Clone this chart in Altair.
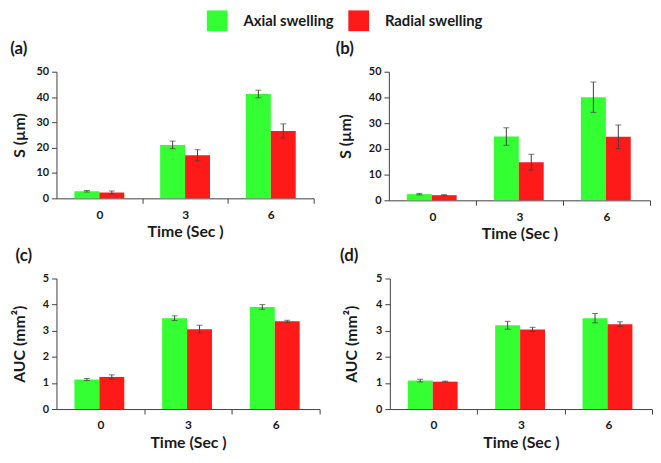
import altair as alt
import pandas as pd

times = ["0", "3", "6"]
series = ["Axial swelling", "Radial swelling"]
colors = ["#33FF33", "#FF1A1A"]

# panel (a): S (um)
a_axial = [2.8, 21.1, 41.2]
a_axial_err = [0.3, 1.5, 1.5]
a_radial = [2.3, 17.0, 26.6]
a_radial_err = [0.6, 2.2, 2.8]
# panel (b): S (um)
b_axial = [2.4, 24.8, 40.1]
b_axial_err = [0.3, 3.4, 5.9]
b_radial = [2.0, 14.8, 24.7]
b_radial_err = [0.2, 3.1, 4.6]
# panel (c): AUC (mm2)
c_axial = [1.13, 3.48, 3.91]
c_axial_err = [0.04, 0.09, 0.09]
c_radial = [1.23, 3.06, 3.36]
c_radial_err = [0.08, 0.15, 0.04]
# panel (d): AUC (mm2)
d_axial = [1.09, 3.21, 3.48]
d_axial_err = [0.05, 0.15, 0.18]
d_radial = [1.05, 3.05, 3.25]
d_radial_err = [0.02, 0.08, 0.09]

FONT = "Lato"
DARK = "#1a1a1a"
AXC = "#404040"


def make_df(ax, axe, ra, rae):
    rows = []
    for i, t in enumerate(times):
        rows.append({"time": t, "series": series[0], "value": ax[i],
                     "lo": ax[i] - axe[i], "hi": ax[i] + axe[i]})
        rows.append({"time": t, "series": series[1], "value": ra[i],
                     "lo": ra[i] - rae[i], "hi": ra[i] + rae[i]})
    return pd.DataFrame(rows)


def panel(df, label, ytitle, ymax, step, w, h, title_pad, title_dx):
    half = w / 6.0
    xenc = alt.X("time:N", sort=times,
                 scale=alt.Scale(paddingInner=0, paddingOuter=0),
                 axis=alt.Axis(title="Time (Sec )", labelAngle=0,
                               tickOffset=half, labelOffset=-half, tickSize=5,
                               labelPadding=6, titlePadding=4,
                               labelFontSize=12, titleFontSize=16))
    xo = alt.XOffset("series:N", sort=series,
                     scale=alt.Scale(paddingInner=0, paddingOuter=0.72))
    vals = [i * step for i in range(int(round(ymax / step)) + 1)]
    yaxis = alt.Axis(title=ytitle, values=vals, grid=False, tickSize=5,
                     labelPadding=3, labelFontSize=11, titleFontSize=16,
                     titlePadding=title_pad)
    yscale = alt.Scale(domain=[0, ymax], nice=False)
    base = alt.Chart(df)
    bars = base.mark_bar().encode(
        x=xenc, xOffset=xo,
        y=alt.Y("value:Q", scale=yscale, axis=yaxis, title=ytitle),
        color=alt.Color("series:N", sort=series,
                        scale=alt.Scale(domain=series, range=colors),
                        legend=alt.Legend(title=None)),
    )
    rule = base.mark_rule(color=AXC, strokeWidth=1).encode(
        x=xenc, xOffset=xo,
        y=alt.Y("lo:Q", scale=yscale, axis=yaxis, title=ytitle),
        y2="hi:Q",
    )
    cap_lo = base.mark_tick(color=AXC, size=6, thickness=1).encode(
        x=xenc, xOffset=xo,
        y=alt.Y("lo:Q", scale=yscale, axis=yaxis, title=ytitle),
    )
    cap_hi = base.mark_tick(color=AXC, size=6, thickness=1).encode(
        x=xenc, xOffset=xo,
        y=alt.Y("hi:Q", scale=yscale, axis=yaxis, title=ytitle),
    )
    return alt.layer(bars, rule, cap_lo, cap_hi).properties(
        width=w, height=h,
        title=alt.Title(label, anchor="start", fontSize=17, font=FONT,
                        fontWeight="bold", color=DARK, offset=8, dx=title_dx),
    )


pa = panel(make_df(a_axial, a_axial_err, a_radial, a_radial_err),
           "(a)", "S (µm)", 50, 10, 260, 128, 9, -1)
pb = panel(make_df(b_axial, b_axial_err, b_radial, b_radial_err),
           "(b)", "S (µm)", 50, 10, 264, 130, 15, -2)
pc = panel(make_df(c_axial, c_axial_err, c_radial, c_radial_err),
           "(c)", "AUC  (mm²)", 5, 1, 266, 132, 15, 4)
pd_ = panel(make_df(d_axial, d_axial_err, d_radial, d_radial_err),
            "(d)", "AUC  (mm²)", 5, 1, 265, 132, 16, -4)

chart = alt.vconcat(
    alt.hconcat(pa, pb, spacing=21),
    alt.hconcat(pc, pd_, spacing=19),
    spacing=5,
).properties(
    padding={"left": 2, "top": 0, "right": 0, "bottom": 0},
).configure_view(
    stroke=None,
).configure_axis(
    labelFont=FONT, titleFont=FONT, labelFontWeight="bold",
    titleFontWeight="bold", labelColor=DARK, titleColor=DARK,
    domainColor=AXC, tickColor=AXC, grid=False,
).configure_legend(
    orient="none", legendX=152, legendY=-62, direction="horizontal",
    symbolType="square", symbolSize=440, symbolStrokeWidth=0,
    symbolOpacity=1, labelFont=FONT, labelFontSize=15,
    labelFontWeight="bold", labelColor=DARK, labelOffset=16,
    columnPadding=14,
)

chart.save("out.html", embed_options={"renderer": "svg", "actions": False})
